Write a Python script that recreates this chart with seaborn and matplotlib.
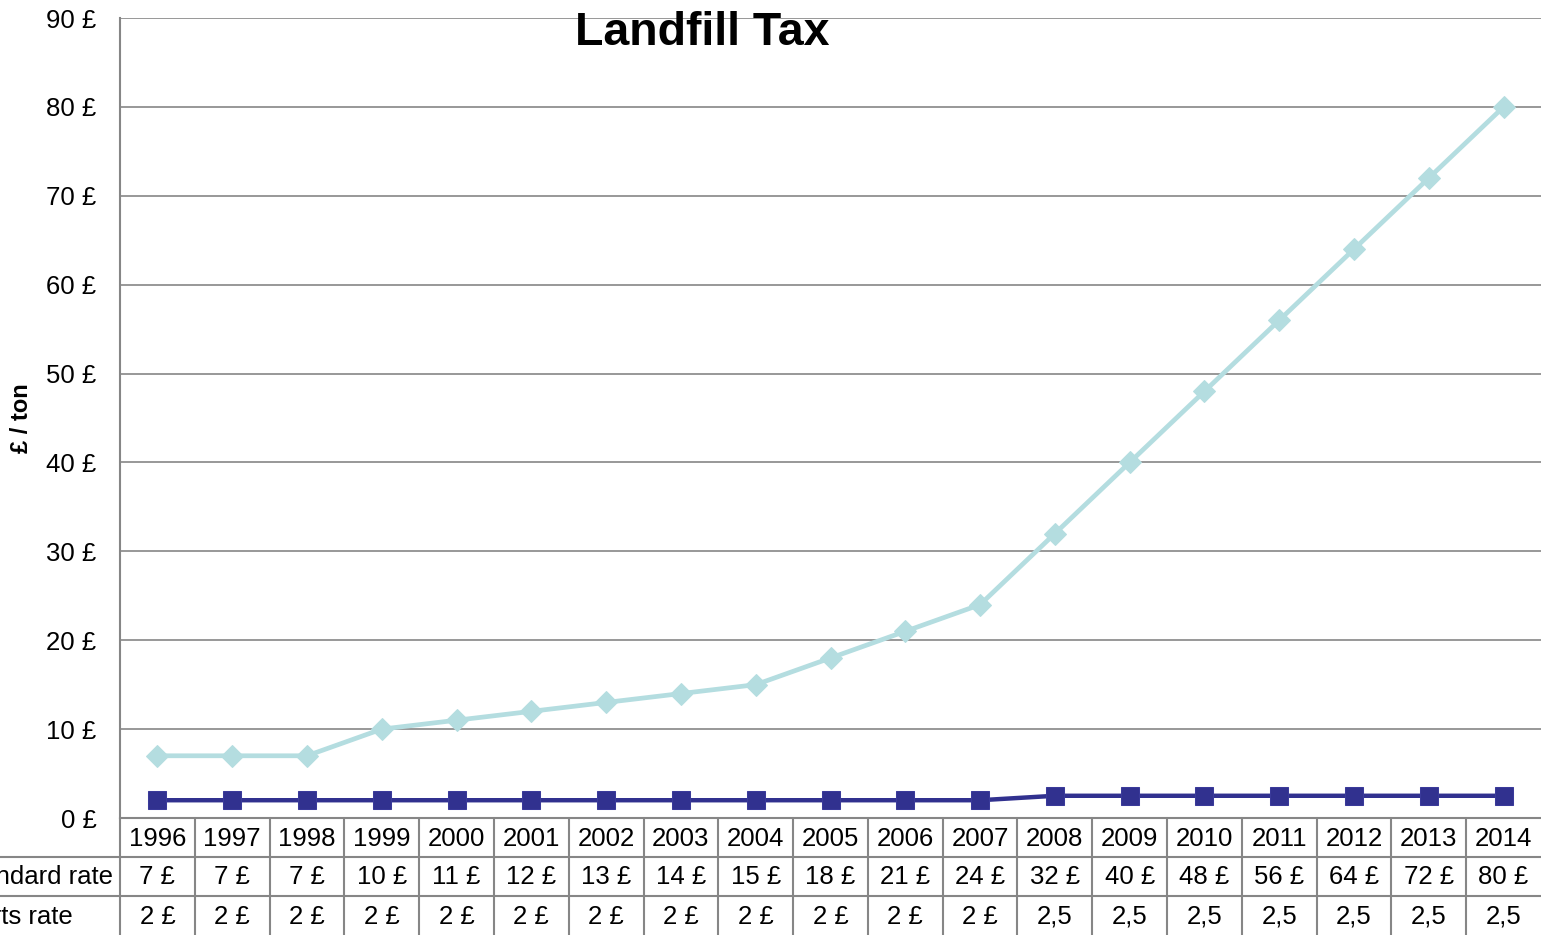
import matplotlib
matplotlib.use("Agg")
import matplotlib.pyplot as plt
import matplotlib.transforms as mtransforms
import seaborn as sns
import pandas as pd

# ---- data ----
years = [1996, 1997, 1998, 1999, 2000, 2001, 2002, 2003, 2004, 2005,
         2006, 2007, 2008, 2009, 2010, 2011, 2012, 2013, 2014]
standard_rate = [7, 7, 7, 10, 11, 12, 13, 14, 15, 18, 21, 24, 32, 40, 48, 56, 64, 72, 80]
inerts_rate = [2, 2, 2, 2, 2, 2, 2, 2, 2, 2, 2, 2, 2.5, 2.5, 2.5, 2.5, 2.5, 2.5, 2.5]
standard_labels = ["7 £", "7 £", "7 £", "10 £", "11 £", "12 £", "13 £", "14 £", "15 £", "18 £",
                   "21 £", "24 £", "32 £", "40 £", "48 £", "56 £", "64 £", "72 £", "80 £"]
inerts_labels = ["2 £", "2 £", "2 £", "2 £", "2 £", "2 £", "2 £", "2 £", "2 £", "2 £",
                 "2 £", "2 £", "2,5", "2,5", "2,5", "2,5", "2,5", "2,5", "2,5"]
row_names = ["Standard rate", "Inerts rate"]
y_ticks = [0, 10, 20, 30, 40, 50, 60, 70, 80, 90]
y_tick_labels = ["0 £", "10 £", "20 £", "30 £", "40 £", "50 £", "60 £", "70 £", "80 £", "90 £"]
title = "Landfill Tax"
y_label = "£ / ton"

df = pd.DataFrame({"year": years, "standard": standard_rate, "inerts": inerts_rate})

sns.set_style("white")
plt.rcParams["font.family"] = ["Liberation Sans", "DejaVu Sans"]
plt.rcParams["text.color"] = "black"
plt.rcParams["axes.labelcolor"] = "black"
plt.rcParams["ytick.color"] = "black"
plt.rcParams["xtick.color"] = "black"

W, H = 1541, 935
fig = plt.figure(figsize=(W / 100, H / 100), dpi=100)
ax_left, ax_right, ax_top, ax_bottom = 120, 1541, 18, 818
ax = fig.add_axes([ax_left / W, (H - ax_bottom) / H, (ax_right - ax_left) / W, (ax_bottom - ax_top) / H])

grid_c = "#868686"
light_c = "#B4DDE0"
dark_c = "#31318F"

sns.lineplot(data=df, x="year", y="standard", ax=ax, color=light_c, lw=3.4,
             marker="D", markersize=11, markeredgecolor=light_c, clip_on=False, zorder=4)
sns.lineplot(data=df, x="year", y="inerts", ax=ax, color=dark_c, lw=3.2,
             marker="s", markersize=13.5, markeredgecolor="#3A3A9A", clip_on=False, zorder=5)

ax.set_xlim(years[0] - 0.5, years[-1] + 0.5)
ax.set_ylim(0, 90)
ax.set_yticks(y_ticks)
ax.set_yticklabels(y_tick_labels, fontsize=18.5, color="black")
ax.tick_params(axis="y", length=0, pad=17)
ax.set_xticks([])
ax.set_xlabel("")
ax.set_ylabel("")
ax.grid(axis="y", color=grid_c, lw=1.2)
ax.set_axisbelow(True)
for s in ["top", "right"]:
    ax.spines[s].set_visible(False)
ax.spines["left"].set_color(grid_c)
ax.spines["left"].set_linewidth(1.5)
ax.spines["bottom"].set_color(grid_c)
ax.spines["bottom"].set_linewidth(1.5)

fig.text(22 / W, 1 - 418 / H, y_label, rotation=90, ha="center", va="center",
         fontsize=17, fontweight="bold", color="black")

# ---- data table below ----
axh = ax_bottom - ax_top
def ay(py):
    return (ax_bottom - py) / axh

trans = mtransforms.blended_transform_factory(ax.transData, ax.transAxes)
row_bounds = [818, 857, 896, 935]
row_centers = [(row_bounds[i] + row_bounds[i + 1]) / 2 for i in range(3)]

for yb in row_bounds[1:3]:
    ax.plot([0, 1], [ay(yb), ay(yb)], transform=ax.transAxes, color=grid_c, lw=1.5, clip_on=False)
    fig.add_artist(plt.Line2D([0, ax_left / W], [(H - yb) / H] * 2, color=grid_c, lw=1.5))
for yr in years:
    ax.plot([yr - 0.5, yr - 0.5], [0, ay(H + 5)], transform=trans, color=grid_c, lw=1.5, clip_on=False)

for yr, sl, il in zip(years, standard_labels, inerts_labels):
    ax.text(yr, ay(row_centers[0] + 1), str(yr), transform=trans, ha="center", va="center", fontsize=18.5)
    ax.text(yr, ay(row_centers[1] + 1), sl, transform=trans, ha="center", va="center", fontsize=18.5)
    ax.text(yr, ay(row_centers[2] + 1), il, transform=trans, ha="center", va="center", fontsize=18.5)

for name, yc in zip(row_names, row_centers[1:]):
    fig.text(-43 / W, (H - yc - 1) / H, name, ha="left", va="center", fontsize=18.5)

fig.text(702 / W, 1 - 45 / H, title, ha="center", va="baseline", fontsize=33.5,
         fontweight="bold", color="black", zorder=10)

fig.savefig("out.png", dpi=100)
